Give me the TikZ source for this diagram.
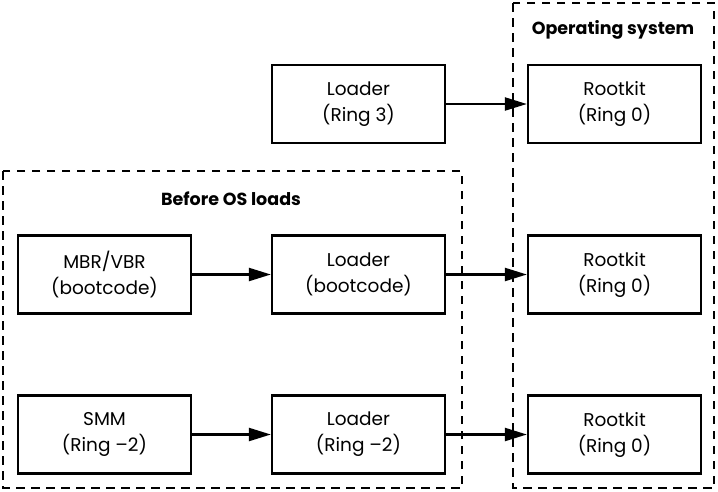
\documentclass[tikz,border=0pt]{standalone}
\usepackage{fontspec}
\setmainfont{Poppins}
\usetikzlibrary{arrows.meta}
\begin{document}
\begin{tikzpicture}[x=1pt, y=-1pt,
    stage/.style={draw, fill=white, line width=2.3pt, minimum width=173pt, minimum height=78pt,
        align=center, font=\fontsize{18.5}{26}\selectfont, inner sep=0pt},
    region/.style={draw, line width=2.3pt, dash pattern=on 8.5pt off 6.5pt},
    heading/.style={font=\fontsize{17.5}{20}\selectfont\bfseries},
    flow/.style={line width=2.3pt, -{Triangle[length=22pt, width=13pt]}}]
    \pgfmathsetmacro{\ca}{104.5}
    \pgfmathsetmacro{\cb}{358.5}
    \pgfmathsetmacro{\cc}{614.5}

    \useasboundingbox (0, 0) rectangle (718, 491);

    \draw[region] (513, 3) rectangle (714, 488);
    \draw[region] (3, 171) rectangle (462, 488);
    \node[heading] (oshead) at (613, 30) {Operating system};
    \node[heading] (prehead) at (231, 199) {Before OS loads};

    \node[stage] (ldrthree) at (\cb, 104) {Loader\\(Ring 3)};
    \node[stage] (rkone) at (\cc, 104) {Rootkit\\(Ring 0)};

    \node[stage] (mbr) at (\ca, 274.5) {MBR/VBR\\(bootcode)};
    \node[stage] (ldrboot) at (\cb, 274.5) {Loader\\(bootcode)};
    \node[stage] (rktwo) at (\cc, 274.5) {Rootkit\\(Ring 0)};

    \node[stage] (smm) at (\ca, 434.5) {SMM\\(Ring --2)};
    \node[stage] (ldrsmm) at (\cb, 434.5) {Loader\\(Ring --2)};
    \node[stage] (rkthree) at (\cc, 434.5) {Rootkit\\(Ring 0)};

    \draw[flow] (ldrthree) -- (rkone);
    \draw[flow] (mbr) -- (ldrboot);
    \draw[flow] (ldrboot) -- (rktwo);
    \draw[flow] (smm) -- (ldrsmm);
    \draw[flow] (ldrsmm) -- (rkthree);
\end{tikzpicture}
\end{document}
